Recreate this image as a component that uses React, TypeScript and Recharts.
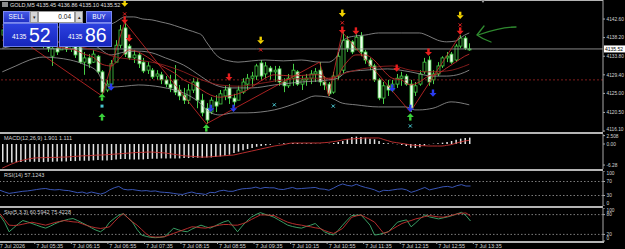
import React from "react";
import { Bar, ComposedChart, Line, ReferenceLine, XAxis, YAxis } from "recharts";

const FONT = "'Liberation Sans', Arial, sans-serif";
const GREEN = "#46d046";
const AXIS = "#a8a8a8";
const TXT = "#d4d4d4";
const SLOTS = 133; // bars that fit the visible width (chart is shifted, right part is empty)
const PLOT_W = 603;
const BAND = PLOT_W / SLOTS;

const timeLabels = [
  "7 Jul 2026", "7 Jul 05:35", "7 Jul 06:15", "7 Jul 06:55", "7 Jul 07:35",
  "7 Jul 08:15", "7 Jul 08:55", "7 Jul 09:35", "7 Jul 10:15", "7 Jul 10:55",
  "7 Jul 11:35", "7 Jul 12:15", "7 Jul 12:55", "7 Jul 13:35",
];
const timeTickSlots = [0, 8, 16, 24, 32, 40, 48, 56, 64, 72, 80, 88, 96, 104];

const priceTicks = [4142.6, 4138.2, 4133.8, 4129.4, 4125.0, 4120.5, 4116.1];
const lastPrice = 4135.52;
const redLevel = 4128.2;

// GOLD M5 candles
const opens = [
  4138.8, 4140.0, 4139.0, 4140.9, 4140.5, 4138.8, 4138.1, 4137.6, 4138.6, 4137.6,
  4136.7, 4133.8, 4135.7, 4135.3, 4136.4, 4135.5, 4136.2, 4136.0, 4132.4, 4133.4,
  4132.4, 4133.8, 4130.1, 4125.8, 4127.2, 4132.4, 4136.4, 4140.5, 4136.2, 4133.4,
  4134.1, 4132.4, 4130.5, 4130.5, 4129.1, 4129.4, 4128.2, 4127.2, 4128.2, 4125.8,
  4124.6, 4123.4, 4125.8, 4127.7, 4123.4, 4121.5, 4120.6, 4123.0, 4122.5, 4124.4,
  4126.3, 4123.9, 4123.4, 4125.3, 4127.2, 4128.6, 4129.1, 4132.2, 4129.6, 4131.0,
  4130.1, 4130.8, 4127.7, 4126.8, 4128.6, 4130.1, 4127.2, 4128.2, 4128.6, 4129.6,
  4130.5, 4127.7, 4127.2, 4125.3, 4129.1, 4130.5, 4137.6, 4137.2, 4135.3, 4138.6,
  4134.8, 4132.9, 4131.5, 4128.2, 4123.9, 4126.8, 4125.8, 4127.2, 4128.6, 4129.1,
  4127.2, 4125.3, 4127.2, 4130.1, 4132.9, 4128.2, 4129.6, 4131.5, 4133.4, 4134.3,
  4132.9, 4136.2, 4138.1, 4135.45,
];
const highs = [
  4140.5, 4141.2, 4141.9, 4142.4, 4141.9, 4140.5, 4140.0, 4139.5, 4140.0, 4138.6,
  4138.1, 4137.2, 4136.9, 4137.2, 4136.9, 4137.2, 4136.4, 4136.7, 4134.8, 4134.3,
  4135.3, 4134.1, 4130.5, 4128.2, 4132.9, 4137.6, 4141.2, 4141.9, 4136.7, 4135.3,
  4134.6, 4133.4, 4132.4, 4131.0, 4130.5, 4130.1, 4129.1, 4129.4, 4131.7, 4127.0,
  4126.3, 4127.2, 4128.6, 4128.6, 4124.9, 4122.7, 4124.1, 4124.6, 4125.8, 4126.8,
  4127.2, 4124.9, 4126.8, 4128.6, 4129.6, 4130.1, 4132.0, 4132.9, 4132.4, 4131.5,
  4131.5, 4131.5, 4128.6, 4129.6, 4132.0, 4130.5, 4129.1, 4129.6, 4130.5, 4131.0,
  4132.4, 4129.1, 4127.7, 4130.1, 4134.8, 4139.5, 4138.6, 4137.6, 4139.0, 4139.5,
  4135.3, 4133.4, 4132.0, 4128.6, 4127.7, 4128.2, 4128.2, 4129.6, 4130.1, 4129.6,
  4128.2, 4127.7, 4130.5, 4133.4, 4133.8, 4130.5, 4132.4, 4133.8, 4134.8, 4134.8,
  4136.7, 4138.8, 4138.6, 4136.86,
];
const lows = [
  4137.6, 4138.1, 4138.6, 4139.5, 4138.1, 4137.2, 4136.4, 4136.2, 4136.7, 4135.7,
  4134.8, 4131.5, 4134.1, 4135.3, 4134.8, 4134.8, 4133.4, 4132.0, 4129.4, 4131.0,
  4132.2, 4129.6, 4124.4, 4125.3, 4127.0, 4132.4, 4135.7, 4133.6, 4132.9, 4132.2,
  4131.0, 4129.8, 4129.6, 4128.4, 4128.2, 4127.2, 4126.5, 4125.3, 4124.6, 4123.4,
  4122.5, 4122.5, 4125.1, 4121.5, 4119.6, 4117.8, 4120.1, 4120.6, 4122.5, 4123.4,
  4122.5, 4122.0, 4123.4, 4124.9, 4125.8, 4126.8, 4128.2, 4128.2, 4128.6, 4128.2,
  4127.7, 4126.8, 4125.3, 4126.3, 4126.8, 4126.8, 4125.8, 4126.8, 4127.2, 4127.7,
  4126.8, 4125.8, 4124.4, 4124.9, 4128.2, 4129.6, 4134.8, 4134.3, 4135.3, 4133.8,
  4132.0, 4130.5, 4127.7, 4123.4, 4122.5, 4124.4, 4125.3, 4126.3, 4126.8, 4126.8,
  4120.6, 4124.4, 4126.8, 4129.6, 4126.8, 4127.2, 4129.1, 4131.0, 4132.4, 4132.0,
  4132.4, 4135.7, 4135.3, 4135.1,
];
const closes = [
  4140.0, 4138.8, 4140.9, 4140.5, 4138.8, 4138.1, 4137.6, 4138.6, 4137.6, 4136.7,
  4135.7, 4135.7, 4134.8, 4136.4, 4135.5, 4136.2, 4134.1, 4132.4, 4133.4, 4132.0,
  4134.3, 4130.1, 4125.3, 4127.2, 4132.0, 4136.4, 4140.0, 4134.3, 4133.4, 4134.1,
  4132.0, 4130.3, 4131.5, 4128.9, 4129.6, 4128.2, 4127.2, 4126.3, 4125.3, 4124.4,
  4123.4, 4125.8, 4127.7, 4123.4, 4120.4, 4118.7, 4123.4, 4122.0, 4124.9, 4125.8,
  4123.9, 4123.0, 4125.8, 4127.7, 4128.6, 4129.1, 4131.5, 4129.1, 4131.5, 4130.1,
  4130.5, 4127.7, 4126.8, 4128.6, 4130.5, 4127.2, 4128.2, 4128.6, 4129.6, 4130.1,
  4127.7, 4127.0, 4124.9, 4129.1, 4133.8, 4137.6, 4135.7, 4134.8, 4138.3, 4134.8,
  4132.9, 4131.5, 4128.2, 4123.9, 4126.8, 4125.8, 4127.2, 4128.6, 4129.1, 4127.2,
  4121.5, 4126.8, 4129.6, 4132.4, 4127.7, 4129.6, 4131.5, 4133.4, 4133.8, 4132.4,
  4136.2, 4138.1, 4135.7, 4135.52,
];

// lines at [bar, price]
const bbUpper = [
  [0, 4141.2], [5, 4140.9], [10, 4140.7], [15, 4140.7], [20, 4140.7], [22, 4140.9], [24, 4141.4],
  [25, 4141.9], [26, 4142.6], [27, 4143.1], [29, 4143.1], [31, 4142.6], [33, 4142.4], [35, 4141.9],
  [37, 4141.4], [39, 4140.7], [41, 4140.0], [43, 4139.3], [44, 4138.8], [45, 4137.2], [46, 4135.7],
  [47, 4134.3], [48, 4133.4], [50, 4132.7], [52, 4132.4], [55, 4132.7], [58, 4132.9], [62, 4132.7],
  [66, 4132.9], [70, 4132.4], [72, 4132.4], [73, 4132.9], [74, 4134.1], [75, 4137.2], [76, 4138.1],
  [78, 4138.6], [80, 4138.8], [83, 4139.3], [88, 4139.3], [92, 4139.3], [94, 4138.6], [96, 4137.6],
  [98, 4137.2], [100, 4137.4], [101, 4138.1], [102, 4138.8], [103, 4139.3],
];
const bbMiddle = [
  [0, 4135.7], [10, 4137.2], [20, 4136.4], [24, 4134.1], [27, 4134.8], [30, 4135.0], [33, 4134.6],
  [36, 4133.4], [40, 4131.7], [44, 4128.9], [46, 4127.5], [50, 4126.3], [55, 4126.3], [60, 4127.0],
  [66, 4127.7], [72, 4128.2], [74, 4128.6], [76, 4130.1], [80, 4130.5], [85, 4130.8], [90, 4130.1],
  [95, 4129.1], [98, 4129.1], [101, 4129.6], [103, 4130.5],
];
const bbLower = [
  [0, 4130.1], [3, 4131.5], [6, 4132.9], [9, 4133.6], [12, 4133.4], [15, 4132.9], [18, 4131.9],
  [21, 4130.1], [22, 4128.2], [24, 4126.5], [27, 4126.7], [30, 4127.0], [35, 4126.5], [38, 4125.8],
  [41, 4124.6], [44, 4122.3], [45, 4121.1], [46, 4120.4], [48, 4119.9], [51, 4120.4], [54, 4120.4],
  [57, 4120.6], [60, 4121.1], [63, 4122.0], [66, 4123.2], [69, 4124.4], [72, 4124.1], [73, 4123.7],
  [75, 4122.7], [78, 4122.3], [83, 4121.8], [89, 4121.8], [91, 4121.1], [92, 4121.1], [95, 4121.5],
  [99, 4123.0], [103, 4122.3],
];
const maFast = [
  [0, 4137.6], [10, 4136.7], [12, 4136.0], [14, 4135.7], [16, 4135.3], [18, 4134.3], [20, 4133.6],
  [22, 4131.9], [24, 4131.5], [26, 4133.4], [28, 4135.3], [30, 4134.8], [32, 4133.6], [34, 4132.2],
  [36, 4131.0], [38, 4129.8], [40, 4128.2], [42, 4127.2], [44, 4125.8], [46, 4124.6], [48, 4124.1],
  [50, 4124.4], [52, 4124.9], [54, 4125.8], [56, 4127.2], [58, 4128.6], [60, 4129.4], [64, 4129.1],
  [68, 4129.4], [70, 4129.4], [72, 4128.4], [74, 4129.1], [75, 4131.0], [76, 4132.4], [78, 4134.1],
  [80, 4134.1], [82, 4132.9], [84, 4130.5], [86, 4128.6], [88, 4128.2], [90, 4127.0], [92, 4127.7],
  [94, 4129.1], [96, 4129.6], [98, 4131.0], [100, 4132.4], [102, 4133.8], [103, 4134.3],
];
const maSlow = [
  [0, 4138.8], [10, 4137.6], [20, 4135.3], [26, 4133.4], [30, 4132.9], [35, 4131.9], [40, 4130.1],
  [44, 4128.2], [48, 4127.0], [52, 4126.7], [56, 4127.2], [60, 4127.9], [64, 4128.4], [68, 4128.6],
  [72, 4128.6], [75, 4129.6], [78, 4130.5], [82, 4131.2], [86, 4131.5], [90, 4130.5], [94, 4130.1],
  [98, 4130.3], [103, 4131.9],
];
const zigzag = [
  [0, 4140.7], [22, 4124.4], [27, 4141.9], [45, 4117.8], [70, 4132.4], [72, 4124.4], [75, 4139.5],
  [90, 4120.6], [101, 4138.8],
];

// signal markers [bar, price]
const yellowArrows = [[27, 4146.4], [57, 4137.6], [75, 4144.0], [101, 4143.5]];
const redCrosses = [[27, 4143.8], [57, 4135.3], [75, 4141.7], [101, 4141.2]];
const redArrows = [
  [27, 4142.4], [28, 4138.1], [50, 4128.9], [75, 4140.0], [78, 4139.8], [87, 4131.0], [94, 4134.8], [101, 4139.8],
];
const blueArrows = [[24, 4126.5], [46, 4121.5], [51, 4121.5], [86, 4126.3], [90, 4121.5], [95, 4125.1]];
const greenArrows = [[22, 4124.1], [45, 4116.8], [90, 4119.4]];
const greenArrowsLow = [[22, 4119.4]];
const cyanSquares = [[22, 4122.0]];
const cyanCrosses = [[60, 4122.3], [73, 4122.0], [90, 4117.3]];

const macdHist = [
  -5.4, -5.5, -5.5, -5.4, -5.4, -5.4, -5.3, -5.3, -5.4, -5.4,
  -5.3, -5.3, -5.2, -5.2, -5.2, -5.1, -5.1, -5.0, -5.0, -5.0,
  -4.9, -4.8, -4.9, -4.9, -4.8, -4.6, -4.5, -4.5, -4.6, -4.6,
  -4.6, -4.6, -4.5, -4.4, -4.4, -4.3, -4.3, -4.3, -4.3, -4.3,
  -4.2, -4.2, -4.1, -4.1, -4.1, -4.0, -4.0, -3.9, -3.7, -3.5,
  -3.2, -2.7, -2.3, -1.9, -1.5, -1.2, -0.8, -0.6, -0.4, -0.2,
  0.0, 0.1, 0.2, 0.2, 0.3, 0.3, 0.2, 0.2, 0.2, 0.1,
  0.1, 0.0, 0.1, 0.3, 0.6, 0.9, 1.5, 2.1, 2.2, 2.1,
  1.9, 1.6, 1.4, 0.9, 0.3, 0.2, 0.1, -0.1, -0.3, -0.6,
  -1.1, -1.2, -1.0, -0.5, -0.1, 0.1, 0.2, 0.4, 0.6, 0.9,
  1.3, 1.6, 1.8, 1.9,
];
const macdSignal = [
  -7.2, -6.6, -6.0, -5.5, -5.0, -4.7, -4.4, -4.2, -4.1, -4.1,
  -4.0, -4.0, -4.0, -3.9, -3.9, -3.8, -3.7, -3.6, -3.5, -3.5,
  -3.4, -3.3, -3.3, -3.2, -3.1, -3.0, -2.9, -2.8, -2.7, -2.6,
  -2.5, -2.5, -2.4, -2.4, -2.5, -2.6, -2.7, -2.9, -3.1, -3.3,
  -3.5, -3.6, -3.7, -3.8, -3.9, -3.9, -3.8, -3.7, -3.6, -3.5,
  -3.4, -3.3, -3.0, -2.7, -2.4, -2.1, -1.8, -1.5, -1.2, -0.9,
  -0.6, -0.4, -0.2, 0.1, 0.3, 0.3, 0.3, 0.3, 0.3, 0.3,
  0.3, 0.4, 0.5, 0.7, 0.9, 1.2, 1.4, 1.5, 1.6, 1.7,
  1.8, 1.8, 1.8, 1.8, 1.4, 1.0, 0.6, 0.4, 0.2, 0.0,
  -0.3, -0.4, -0.5, -0.5, -0.6, -0.6, -0.6, -0.6, -0.4, -0.2,
  0.2, 0.6, 0.9, 1.1,
];
const rsi = [
  45, 40, 36, 38, 40, 42, 43, 45, 47, 49,
  50, 47, 46, 47, 45, 44, 41, 38, 40, 36,
  40, 37, 34, 38, 46, 52, 56, 48, 46, 47,
  45, 43, 44, 42, 43, 40, 39, 38, 36, 34,
  33, 37, 40, 36, 35, 33, 39, 38, 43, 45,
  42, 42, 46, 49, 50, 51, 54, 50, 53, 52,
  52, 48, 47, 50, 53, 49, 50, 51, 52, 53,
  49, 48, 45, 51, 58, 63, 59, 57, 62, 57,
  53, 50, 46, 40, 45, 44, 46, 48, 49, 46,
  39, 43, 48, 53, 46, 49, 52, 55, 56, 53,
  58, 61, 57, 57.1,
];
const stochMain = [
  77, 57, 28, 40, 52, 62, 58, 53, 48, 43,
  39, 45, 52, 58, 62, 66, 68, 62, 55, 48,
  40, 33, 28, 38, 57, 68, 78, 83, 70, 57,
  35, 18, 14, 11, 10, 11, 13, 25, 39, 34,
  30, 28, 36, 42, 48, 43, 39, 45, 52, 58,
  62, 45, 28, 45, 60, 72, 80, 86, 81, 77,
  72, 64, 56, 48, 44, 41, 39, 44, 48, 53,
  40, 28, 22, 18, 32, 48, 63, 77, 78, 79,
  64, 48, 18, 20, 24, 28, 42, 57, 61, 64,
  43, 55, 68, 79, 73, 70, 67, 70, 73, 77,
  82, 87, 77, 60.6,
];
const stochSignal = [
  83, 65, 48, 47, 48, 51, 54, 57, 54, 51,
  48, 52, 56, 59, 62, 60, 58, 57, 52, 47,
  43, 40, 38, 40, 43, 58, 72, 83, 70, 58,
  48, 35, 22, 13, 12, 12, 13, 18, 23, 28,
  33, 38, 43, 42, 40, 39, 42, 45, 48, 50,
  50, 48, 48, 52, 57, 65, 72, 79, 79, 78,
  77, 70, 63, 57, 53, 50, 48, 45, 43, 40,
  38, 32, 27, 23, 30, 38, 55, 72, 76, 79,
  72, 65, 57, 40, 23, 28, 37, 45, 53, 58,
  62, 67, 70, 74, 77, 75, 73, 72, 75, 78,
  82, 84, 85, 75.4,
];

// one row per slot, empty slots on the right
const rows: any[] = [];
for (let k = 0; k < SLOTS; k++) rows.push({ slot: k });
opens.forEach((o, i) => {
  Object.assign(rows[i], {
    o, h: highs[i], l: lows[i], c: closes[i], range: [lows[i], highs[i]],
    macd: macdHist[i], signal: macdSignal[i], rsi: rsi[i], stoch: stochMain[i], stochSig: stochSignal[i],
  });
});
const place = (key: string, pts: number[][]) => pts.forEach(([i, v]) => (rows[i][key] = v));
place("bbUp", bbUpper);
place("bbMid", bbMiddle);
place("bbLow", bbLower);
place("maFast", maFast);
place("maSlow", maSlow);
place("zz", zigzag);
place("yellow", yellowArrows);
place("redX", redCrosses);
place("red", redArrows);
place("blue", blueArrows);
place("green", greenArrows);
place("green2", greenArrowsLow);
place("cyanSq", cyanSquares);
place("cyanX", cyanCrosses);

const M = { top: 0, right: 0, bottom: 0, left: 0 };

const Candle = (props: any) => {
  const { x, y, width, height, payload } = props;
  if (payload == null || payload.h == null || height == null) return <g />;
  const top = Math.min(y, y + height);
  const hh = Math.abs(height);
  const ppu = hh / (payload.h - payload.l || 1);
  const cx = Math.round(x + width / 2) + 0.5;
  const yO = top + (payload.h - payload.o) * ppu;
  const yC = top + (payload.h - payload.c) * ppu;
  const bTop = Math.min(yO, yC);
  const bH = Math.max(Math.abs(yC - yO), 1);
  const bear = payload.c < payload.o;
  return (
    <g>
      <line x1={cx} x2={cx} y1={top} y2={top + hh} stroke={GREEN} strokeWidth={1} />
      <rect x={cx - 1.5} y={bTop} width={3} height={bH} fill={bear ? "#eefcee" : "#000"} stroke={GREEN} strokeWidth={0.8} />
    </g>
  );
};

const empty = (p: any) => p.value == null || p.cy == null || Number.isNaN(p.cy);

const arrowDot = (color: string, up: boolean) => (p: any) => {
  const key = p.key ?? `a${p.index}`;
  if (empty(p)) return <g key={key} />;
  const { cx, cy } = p;
  const s = up ? -1 : 1;
  return (
    <g key={key}>
      <rect x={cx - 1.2} y={up ? cy : cy - 3.5} width={2.4} height={3.5} fill={color} />
      <path d={`M${cx - 3.5},${cy} L${cx + 3.5},${cy} L${cx},${cy + s * 3.8} Z`} fill={color} />
    </g>
  );
};

const crossDot = (color: string) => (p: any) => {
  const key = p.key ?? `x${p.index}`;
  if (empty(p)) return <g key={key} />;
  const { cx, cy } = p;
  return (
    <g key={key} stroke={color} strokeWidth={1}>
      <line x1={cx - 1.6} y1={cy - 1.6} x2={cx + 1.6} y2={cy + 1.6} />
      <line x1={cx - 1.6} y1={cy + 1.6} x2={cx + 1.6} y2={cy - 1.6} />
    </g>
  );
};

const squareDot = (color: string) => (p: any) => {
  const key = p.key ?? `s${p.index}`;
  if (empty(p)) return <g key={key} />;
  return <rect key={key} x={p.cx - 1.5} y={p.cy - 1.5} width={3} height={3} fill={color} />;
};

// labels near the window edges are pulled inside, like the terminal does
const axisTick = (bottom: number, fmt: (v: number) => string) => (p: any) => {
  const y = Math.min(Math.max(p.y, 2.5), bottom - 2.5);
  return (
    <text x={p.x - 0.5} y={y} dy={1.7} fontSize={4.8} fill={TXT} fontFamily={FONT}>
      {fmt(p.payload.value)}
    </text>
  );
};

const PriceTag = (props: any) => {
  const vb = props.viewBox;
  if (!vb) return <g />;
  const x = vb.x + vb.width + 1;
  return (
    <g>
      <rect x={x} y={vb.y - 3.5} width={21} height={7} fill="#fff" />
      <text x={x + 1} y={vb.y + 1.8} fontSize={5} fill="#000" fontFamily={FONT}>
        {lastPrice.toFixed(2)}
      </text>
    </g>
  );
};

const TimeTick = (p: any) => {
  const left = p.x - BAND / 2;
  const label = timeLabels[timeTickSlots.indexOf(p.payload.value)];
  return (
    <g>
      <line x1={left + 0.5} x2={left + 0.5} y1={33} y2={36} stroke={AXIS} />
      <text x={left + 2} y={39.5} fontSize={5.5} fill={TXT} fontFamily={FONT}>
        {label}
      </text>
    </g>
  );
};

const macdLabels: Record<string, string> = { "2.508": "2.508", "0": "0.00", "-6.28": "-6.28" };

const yAxisCommon = {
  orientation: "right" as const,
  width: 22,
  tickSize: 2,
  interval: 0 as const,
  tickLine: { stroke: AXIS },
  axisLine: { stroke: AXIS },
  allowDataOverflow: true,
};

const markerLine = (key: string, dot: any) => (
  <Line dataKey={key} stroke="none" dot={dot} activeDot={false} isAnimationActive={false} legendType="none" />
);

const btn: React.CSSProperties = {
  position: "absolute",
  top: 11,
  height: 12,
  background: "linear-gradient(#4659e6, #1f30c4)",
  border: "1px solid #7c8af0",
  boxSizing: "border-box",
  color: "#fff",
  fontSize: 6.5,
  lineHeight: "10px",
  textAlign: "center",
};

const bigBox: React.CSSProperties = {
  position: "absolute",
  top: 23,
  height: 24,
  background: "linear-gradient(#2c41e0, #1626bd)",
  border: "1px solid #6d7de8",
  boxSizing: "border-box",
  color: "#fff",
};

export default function App() {
  return (
    <div style={{ position: "fixed", left: 0, top: 0, width: 625, height: 249, background: "#000", overflow: "hidden", fontFamily: FONT }}>
      {/* price window */}
      <div style={{ position: "absolute", left: 0, top: 0 }}>
        <ComposedChart width={625} height={132} data={rows} margin={M}>
          <XAxis dataKey="slot" hide />
          <YAxis {...yAxisCommon} domain={[4115.87, 4147.1]} ticks={priceTicks} tick={axisTick(132, (v) => v.toFixed(2))} />
          <ReferenceLine y={redLevel} stroke="#a02424" strokeDasharray="2 2" strokeWidth={0.8} />
          <ReferenceLine y={lastPrice} stroke="#a8a8a8" strokeWidth={0.8} label={(p: any) => <PriceTag {...p} />} />
          <Bar dataKey="range" barSize={3} shape={Candle} isAnimationActive={false} />
          <Line dataKey="bbUp" type="monotone" stroke="#9c9c9c" strokeWidth={0.8} dot={false} connectNulls isAnimationActive={false} />
          <Line dataKey="bbMid" type="monotone" stroke="#9c9c9c" strokeWidth={0.8} dot={false} connectNulls isAnimationActive={false} />
          <Line dataKey="bbLow" type="monotone" stroke="#9c9c9c" strokeWidth={0.8} dot={false} connectNulls isAnimationActive={false} />
          <Line dataKey="maSlow" type="monotone" stroke="#8e1e1e" strokeWidth={0.9} dot={false} connectNulls isAnimationActive={false} />
          <Line dataKey="maFast" type="monotone" stroke="#c02a2a" strokeWidth={0.9} dot={false} connectNulls isAnimationActive={false} />
          <Line dataKey="zz" type="linear" stroke="#d22a2a" strokeWidth={0.8} dot={false} connectNulls isAnimationActive={false} />
          {markerLine("yellow", arrowDot("#f2d200", false))}
          {markerLine("redX", crossDot("#e02020"))}
          {markerLine("red", arrowDot("#e81e1e", false))}
          {markerLine("blue", arrowDot("#2a3cf0", false))}
          {markerLine("green", arrowDot("#3ad23a", true))}
          {markerLine("green2", arrowDot("#3ad23a", true))}
          {markerLine("cyanSq", squareDot("#49c6d0"))}
          {markerLine("cyanX", crossDot("#49c6d0"))}
        </ComposedChart>
      </div>

      {/* MACD */}
      <div style={{ position: "absolute", left: 0, top: 134 }}>
        <ComposedChart width={625} height={35} data={rows} margin={M}>
          <XAxis dataKey="slot" hide />
          <YAxis {...yAxisCommon} domain={[-7.46, 2.985]} ticks={[2.508, 0, -6.28]} tick={axisTick(35, (v) => macdLabels[String(v)] ?? String(v))} />
          <Bar dataKey="macd" barSize={1.5} fill="#e4e4e4" isAnimationActive={false} />
          <Line dataKey="signal" type="monotone" stroke="#c83232" strokeWidth={0.9} dot={false} isAnimationActive={false} />
        </ComposedChart>
      </div>

      {/* RSI */}
      <div style={{ position: "absolute", left: 0, top: 171 }}>
        <ComposedChart width={625} height={35} data={rows} margin={M}>
          <XAxis dataKey="slot" hide />
          <YAxis {...yAxisCommon} domain={[0, 100]} ticks={[100, 70, 30, 0]} tick={axisTick(35, (v) => String(v))} />
          <ReferenceLine y={70} stroke="#9a9a9a" strokeDasharray="1.5 2" strokeWidth={0.8} />
          <ReferenceLine y={30} stroke="#9a9a9a" strokeDasharray="1.5 2" strokeWidth={0.8} />
          <Line dataKey="rsi" type="linear" stroke="#3f5fc8" strokeWidth={0.9} dot={false} isAnimationActive={false} />
        </ComposedChart>
      </div>

      {/* Stochastic + time axis */}
      <div style={{ position: "absolute", left: 0, top: 208 }}>
        <ComposedChart width={625} height={41} data={rows} margin={M}>
          <XAxis dataKey="slot" height={8} ticks={timeTickSlots} interval={0} tick={TimeTick} tickLine={false} axisLine={false} />
          <YAxis {...yAxisCommon} domain={[0, 100]} ticks={[100, 80, 20, 0]} tick={axisTick(33, (v) => String(v))} />
          <ReferenceLine y={80} stroke="#9a9a9a" strokeDasharray="1.5 2" strokeWidth={0.8} />
          <ReferenceLine y={20} stroke="#9a9a9a" strokeDasharray="1.5 2" strokeWidth={0.8} />
          <Line dataKey="stoch" type="linear" stroke="#3fae6e" strokeWidth={0.9} dot={false} isAnimationActive={false} />
          <Line dataKey="stochSig" type="linear" stroke="#c83232" strokeWidth={0.9} dot={false} isAnimationActive={false} />
        </ComposedChart>
      </div>

      {/* window separators */}
      {[0, 132, 169, 205.5].map((t) => (
        <div key={t} style={{ position: "absolute", left: 0, top: t, width: PLOT_W, height: t === 0 ? 1 : 2, background: "#b4b4b4" }} />
      ))}
      <div style={{ position: "absolute", left: 0, top: 241, width: PLOT_W + 1, height: 1.5, background: "#b4b4b4" }} />

      {/* indicator captions */}
      <div style={{ position: "absolute", left: 4, top: 135, fontSize: 5.5, color: TXT }}>MACD(12,26,9) 1.901 1.111</div>
      <div style={{ position: "absolute", left: 4, top: 172, fontSize: 5.5, color: TXT }}>RSI(14) 57.1243</div>
      <div style={{ position: "absolute", left: 4, top: 208.5, fontSize: 5.5, color: TXT }}>Sto(5,3,3) 60.5942 75.4228</div>

      {/* symbol header */}
      <div style={{ position: "absolute", left: 2, top: 2, width: 6, height: 5, background: "#8a8a8a" }} />
      <div style={{ position: "absolute", left: 10, top: 1.5, fontSize: 5.5, color: "#e0e0e0", whiteSpace: "nowrap" }}>
        GOLD,M5 4135.45 4136.86 4135.10 4135.52
      </div>

      {/* one click trading panel */}
      <div style={{ ...btn, left: 3, width: 27 }}>SELL</div>
      <div style={{ position: "absolute", left: 30, top: 11, width: 8, height: 12, background: "#d6d6d6", border: "1px solid #999", boxSizing: "border-box", fontSize: 5, color: "#222", textAlign: "center", lineHeight: "10px" }}>▾</div>
      <div style={{ position: "absolute", left: 38, top: 11, width: 37, height: 12, background: "#fff", border: "1px solid #999", boxSizing: "border-box", fontSize: 6.5, color: "#111", textAlign: "right", paddingRight: 3, lineHeight: "10px" }}>0.04</div>
      <div style={{ position: "absolute", left: 75, top: 11, width: 8, height: 12, background: "#d6d6d6", border: "1px solid #999", boxSizing: "border-box", fontSize: 5, color: "#222", textAlign: "center", lineHeight: "10px" }}>▴</div>
      <div style={{ ...btn, left: 86, width: 26 }}>BUY</div>
      <div style={{ ...bigBox, left: 3, width: 55 }}>
        <span style={{ position: "absolute", left: 8, top: 9, fontSize: 6.5 }}>4135</span>
        <span style={{ position: "absolute", left: 25, top: -1, fontSize: 19.5, lineHeight: "24px" }}>52</span>
      </div>
      <div style={{ ...bigBox, left: 59, width: 53 }}>
        <span style={{ position: "absolute", left: 8, top: 9, fontSize: 6.5 }}>4135</span>
        <span style={{ position: "absolute", left: 25, top: -1, fontSize: 19.5, lineHeight: "24px" }}>86</span>
      </div>

      {/* hand-drawn note arrow and chart shift marker */}
      <svg width={625} height={249} style={{ position: "absolute", left: 0, top: 0, pointerEvents: "none" }}>
        <path d="M481,0 L485,0 L483,3 Z" fill="#9a9a9a" />
        <path d="M516,27 C505,27 492,30 478,35" stroke="#2f8a2f" strokeWidth={1.3} fill="none" strokeLinecap="round" />
        <path d="M484,26 L477,35 C481,38 485,40 491,42" stroke="#2f8a2f" strokeWidth={1.3} fill="none" strokeLinecap="round" />
      </svg>
    </div>
  );
}
